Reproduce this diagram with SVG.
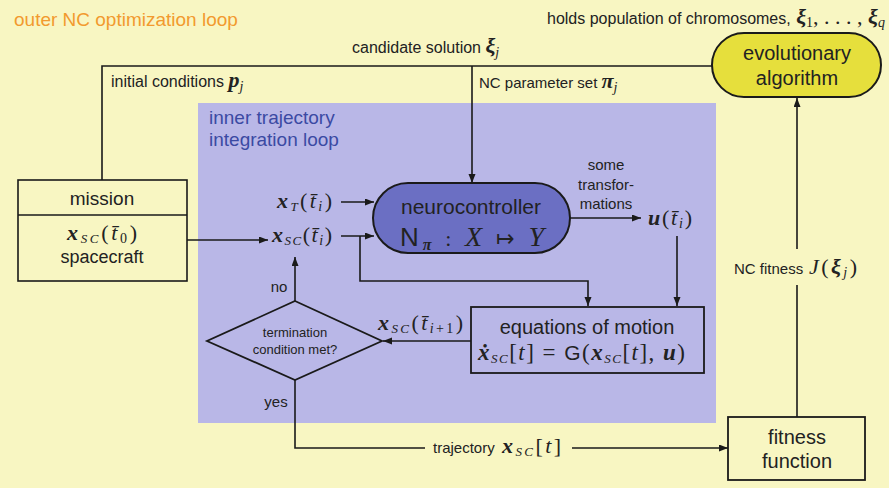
<svg xmlns="http://www.w3.org/2000/svg" width="889" height="488" viewBox="0 0 889 488">
<defs>
<marker id="ah" markerUnits="userSpaceOnUse" markerWidth="10" markerHeight="8" refX="9" refY="3.5" orient="auto">
<path d="M0,0 L9,3.5 L0,7 z" fill="#1a1a1a"/>
</marker>
<style>
.s{font-family:"Liberation Sans",Arial,sans-serif;fill:#222}
.m{font-family:"Liberation Serif","Times New Roman",serif;fill:#222}
.bi{font-weight:bold;font-style:italic}
.it{font-style:italic}
.ln{fill:none;stroke:#1a1a1a;stroke-width:1.6}
.lna{fill:none;stroke:#1a1a1a;stroke-width:1.6;marker-end:url(#ah)}
.box{stroke:#1a1a1a;stroke-width:2}
</style>
</defs>
<rect x="0" y="0" width="889" height="488" fill="#f8f6c2"/>
<rect x="198" y="103" width="518" height="320" fill="#b9b7e7"/>
<text x="14" y="26" class="s" style="font-size:19px;fill:#f29a2e">outer NC optimization loop</text>
<text x="209" y="124" class="s" style="font-size:19px;fill:#3b4aa3">inner trajectory</text>
<text x="209" y="146" class="s" style="font-size:19px;fill:#3b4aa3">integration loop</text>
<text x="885" y="24" text-anchor="end" class="s" style="font-size:16px">holds population of chromosomes,<tspan class="m bi" style="font-size:22px"> ξ</tspan><tspan class="m" style="font-size:14px" dy="3">1</tspan><tspan class="m" style="font-size:22px" dy="-3">, . . . , </tspan><tspan class="m bi" style="font-size:22px">ξ</tspan><tspan class="m it" style="font-size:14px" dy="3">q</tspan></text>

<g id="connectors">
<polyline class="ln" points="102,180 102,66 712,66"/>
<line class="lna" x1="472" y1="66" x2="472" y2="183"/>
<line class="lna" x1="162" y1="240" x2="268" y2="240"/>
<line class="lna" x1="341" y1="202" x2="374" y2="202"/>
<line class="lna" x1="341" y1="236" x2="374" y2="236"/>
<polyline class="lna" points="360,236 360,281 588,281 588,306"/>
<line class="lna" x1="570" y1="218" x2="641" y2="218"/>
<line class="lna" x1="677" y1="236" x2="677" y2="306"/>
<line class="lna" x1="471" y1="341" x2="383" y2="341"/>
<line class="lna" x1="295" y1="301" x2="295" y2="257"/>
<polyline class="ln" points="295,380 295,448 425,448"/>
<line class="lna" x1="572" y1="448" x2="728" y2="448"/>
<line class="ln" x1="797" y1="417" x2="797" y2="285"/>
<line class="lna" x1="797" y1="249" x2="797" y2="98"/>
</g>

<text x="352" y="53" class="s" style="font-size:16px">candidate solution <tspan class="m bi" style="font-size:22px">ξ</tspan><tspan class="m it" style="font-size:14px" dy="4">j</tspan></text>
<text x="111" y="87" class="s" style="font-size:16px">initial conditions <tspan class="m bi" style="font-size:22px">p</tspan><tspan class="m it" style="font-size:14px" dy="4">j</tspan></text>
<text x="479" y="88" class="s" style="font-size:15px">NC parameter set <tspan class="m bi" style="font-size:22px">π</tspan><tspan class="m it" style="font-size:14px" dy="4">j</tspan></text>

<g id="evolutionary-algorithm">
<rect x="712" y="33" width="169" height="64" rx="32" ry="32" fill="#e6df3c" class="box"/>
<text x="797" y="60" text-anchor="middle" class="s" style="font-size:20px">evolutionary</text>
<text x="797" y="85" text-anchor="middle" class="s" style="font-size:20px">algorithm</text>
</g>

<g id="mission">
<rect x="18" y="180" width="169" height="101" fill="#f8f6c2" class="box" style="stroke-width:1.6"/>
<line x1="18" y1="215" x2="187" y2="215" stroke="#1a1a1a" stroke-width="1.6"/>
<text x="102" y="205" text-anchor="middle" class="s" style="font-size:19px">mission</text>
<text x="67" y="240" class="m" style="font-size:22px" textLength="70"><tspan class="bi">x</tspan><tspan class="it" style="font-size:13px" dy="3">SC</tspan><tspan dy="-3">(</tspan><tspan class="it">t̄</tspan><tspan style="font-size:14px" dy="3">0</tspan><tspan dy="-3">)</tspan></text>
<text x="102" y="263" text-anchor="middle" class="s" style="font-size:18px">spacecraft</text>
</g>

<g id="state-inputs">
<text x="277" y="208" class="m" style="font-size:22px" textLength="55"><tspan class="bi">x</tspan><tspan class="it" style="font-size:13px" dy="3">T</tspan><tspan dy="-3">(</tspan><tspan class="it">t̄</tspan><tspan class="it" style="font-size:14px" dy="3">i</tspan><tspan dy="-3">)</tspan></text>
<text x="272" y="242" class="m" style="font-size:22px" textLength="60"><tspan class="bi">x</tspan><tspan class="it" style="font-size:13px" dy="3">SC</tspan><tspan dy="-3">(</tspan><tspan class="it">t̄</tspan><tspan class="it" style="font-size:14px" dy="3">i</tspan><tspan dy="-3">)</tspan></text>
</g>

<g id="neurocontroller">
<rect x="373" y="183" width="197" height="70" rx="35" ry="35" fill="#6b6fc3" class="box"/>
<text x="471" y="214" text-anchor="middle" class="s" style="font-size:21px">neurocontroller</text>
<text x="400" y="246" class="s" style="font-size:26px" textLength="144">N<tspan class="m bi" style="font-size:16px" dy="4">π</tspan><tspan class="m" dy="-4" style="font-size:22px"> : </tspan><tspan class="m it" style="font-size:28px">X</tspan><tspan style="font-size:22px"> ↦ </tspan><tspan class="m it" style="font-size:28px">Y</tspan></text>
</g>

<g id="transformations">
<text x="606" y="170" text-anchor="middle" class="s" style="font-size:15px">some</text>
<text x="606" y="190" text-anchor="middle" class="s" style="font-size:15px">transfor-</text>
<text x="606" y="209" text-anchor="middle" class="s" style="font-size:15px">mations</text>
<text x="648" y="225" class="m" style="font-size:22px" textLength="44"><tspan class="bi">u</tspan>(<tspan class="it">t̄</tspan><tspan class="it" style="font-size:14px" dy="3">i</tspan><tspan dy="-3">)</tspan></text>
</g>

<g id="equations-of-motion">
<rect x="471" y="307" width="233" height="66" fill="#b9b7e7" class="box" style="stroke-width:1.8"/>
<text x="587" y="334" text-anchor="middle" class="s" style="font-size:20px">equations of motion</text>
<text x="478" y="360" class="m" style="font-size:23px" textLength="207"><tspan class="bi">ẋ</tspan><tspan class="it" style="font-size:13px" dy="3">SC</tspan><tspan dy="-3">[</tspan><tspan class="it">t</tspan>] = <tspan class="s" style="font-size:21px">G</tspan>(<tspan class="bi">x</tspan><tspan class="it" style="font-size:13px" dy="3">SC</tspan><tspan dy="-3">[</tspan><tspan class="it">t</tspan>], <tspan class="bi">u</tspan>)</text>
<text x="378" y="330" class="m" style="font-size:22px" textLength="85"><tspan class="bi">x</tspan><tspan class="it" style="font-size:13px" dy="3">SC</tspan><tspan dy="-3">(</tspan><tspan class="it">t̄</tspan><tspan style="font-size:14px" dy="3"><tspan class="it">i</tspan>+1</tspan><tspan dy="-3">)</tspan></text>
</g>

<g id="termination">
<polygon points="295,301 382,341 295,380 207,341" fill="#b9b7e7" class="box" style="stroke-width:1.8"/>
<text x="295" y="337" text-anchor="middle" class="s" style="font-size:13px">termination</text>
<text x="295" y="354" text-anchor="middle" class="s" style="font-size:13px">condition met?</text>
<text x="279" y="292" text-anchor="middle" class="s" style="font-size:15px">no</text>
<text x="276" y="407" text-anchor="middle" class="s" style="font-size:15px">yes</text>
</g>

<text x="433" y="453" class="s" style="font-size:15px">trajectory</text>
<text x="502" y="453" class="m" style="font-size:22px" textLength="59"><tspan class="bi">x</tspan><tspan class="it" style="font-size:13px" dy="3">SC</tspan><tspan dy="-3">[</tspan><tspan class="it">t</tspan>]</text>

<g id="fitness-function">
<rect x="728" y="417" width="137" height="63" fill="#f8f6c2" class="box" style="stroke-width:1.8"/>
<text x="797" y="444" text-anchor="middle" class="s" style="font-size:20px">fitness</text>
<text x="797" y="468" text-anchor="middle" class="s" style="font-size:20px">function</text>
</g>

<text x="734" y="274" class="s" style="font-size:15px">NC fitness</text>
<text x="809" y="274" class="m" style="font-size:22px" textLength="48"><tspan class="it">J</tspan>(<tspan class="bi">ξ</tspan><tspan class="it" style="font-size:14px" dy="3">j</tspan><tspan dy="-3">)</tspan></text>
</svg>
